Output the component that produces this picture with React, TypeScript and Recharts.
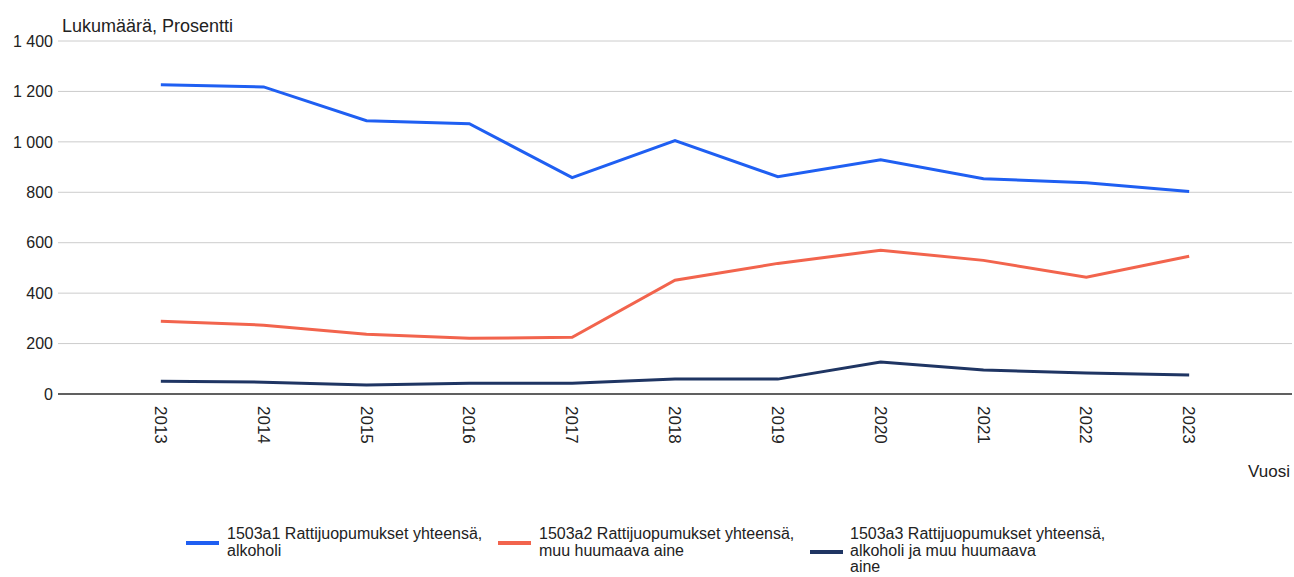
import React from 'react'
import {
  LineChart,
  Line,
  XAxis,
  YAxis,
  CartesianGrid,
} from 'recharts'

const years = [2013, 2014, 2015, 2016, 2017, 2018, 2019, 2020, 2021, 2022, 2023]
const alkoholi = [1226, 1218, 1084, 1072, 858, 1005, 862, 929, 854, 838, 803]
const huumaava = [289, 273, 237, 221, 225, 451, 518, 570, 530, 463, 546]
const molemmat = [51, 47, 36, 43, 43, 59, 59, 127, 95, 83, 75]
const yTicks = [0, 200, 400, 600, 800, 1000, 1200, 1400]

const seriesNames = [
  '1503a1 Rattijuopumukset yhteensä, alkoholi',
  '1503a2 Rattijuopumukset yhteensä, muu huumaava aine',
  '1503a3 Rattijuopumukset yhteensä, alkoholi ja muu huumaava aine',
]
const legendLines = [
  ['1503a1 Rattijuopumukset yhteensä,', 'alkoholi'],
  ['1503a2 Rattijuopumukset yhteensä,', 'muu huumaava aine'],
  ['1503a3 Rattijuopumukset yhteensä,', 'alkoholi ja muu huumaava', 'aine'],
]
const colors = ['#1f5ff2', '#f2644d', '#1f3563']

const data = years.map((year, i) => ({
  year,
  a1: alkoholi[i],
  a2: huumaava[i],
  a3: molemmat[i],
}))

const font = '"Liberation Sans", Arial, sans-serif'

const fmt = (v: number) => v.toLocaleString('fi-FI').replace(/\u00a0/g, ' ')

function YearTick({ x, y, payload }: any) {
  return (
    <text
      x={0}
      y={0}
      transform={`translate(${x - 6}, ${y + 4}) rotate(90)`}
      textAnchor="start"
      fontSize={17}
      fontFamily={font}
      fill="#222"
    >
      {payload.value}
    </text>
  )
}

function LegendBox() {
  const lefts = [186, 498, 810]
  const lineTops = [0, 0, 9]
  return (
    <div style={{ position: 'absolute', left: 0, top: 526, width: 1294, height: 51, fontFamily: font }}>
      {legendLines.map((lines, i) => (
        <div key={i} style={{ position: 'absolute', left: lefts[i], top: 0 }} title={seriesNames[i]}>
          <div
            style={{
              position: 'absolute',
              left: 0,
              top: 15 + lineTops[i],
              width: 33,
              height: 4,
              background: colors[i],
            }}
          />
          <div
            style={{
              position: 'absolute',
              left: i === 2 ? 40 : 41,
              top: 0,
              fontSize: 16,
              lineHeight: '16.5px',
              color: '#222',
              whiteSpace: 'nowrap',
            }}
          >
            {lines.map((l, j) => (
              <div key={j}>{l}</div>
            ))}
          </div>
        </div>
      ))}
    </div>
  )
}

export default function App() {
  return (
    <div style={{ position: 'absolute', left: 0, top: 0, width: 1294, height: 577, background: '#fff' }}>
      <LineChart
        width={1294}
        height={577}
        data={data}
        margin={{ top: 41, right: 2, bottom: 123, left: 0 }}
      >
        <CartesianGrid vertical={false} stroke="#cccccc" />
        <XAxis
          dataKey="year"
          type="number"
          domain={[2012, 2024]}
          ticks={years}
          tickLine={false}
          axisLine={{ stroke: '#333', strokeWidth: 1.5 }}
          tick={<YearTick />}
          interval={0}
          height={60}
        />
        <YAxis
          width={58}
          domain={[0, 1400]}
          ticks={yTicks}
          tickFormatter={fmt}
          tickLine={false}
          axisLine={false}
          tickSize={0}
          tickMargin={5}
          tick={{ fontSize: 16, fill: '#222', fontFamily: font }}
        />
        <Line dataKey="a1" name={seriesNames[0]} stroke={colors[0]} strokeWidth={3} dot={false} type="linear" isAnimationActive={false} />
        <Line dataKey="a2" name={seriesNames[1]} stroke={colors[1]} strokeWidth={3} dot={false} type="linear" isAnimationActive={false} />
        <Line dataKey="a3" name={seriesNames[2]} stroke={colors[2]} strokeWidth={3} dot={false} type="linear" isAnimationActive={false} />
      </LineChart>
      <LegendBox />
      <div style={{ position: 'absolute', left: 62, top: 16, fontSize: 18, fontFamily: font, color: '#222' }}>
        Lukumäärä, Prosentti
      </div>
      <div style={{ position: 'absolute', right: 4, top: 462, fontSize: 17, fontFamily: font, color: '#222' }}>
        Vuosi
      </div>
    </div>
  )
}
